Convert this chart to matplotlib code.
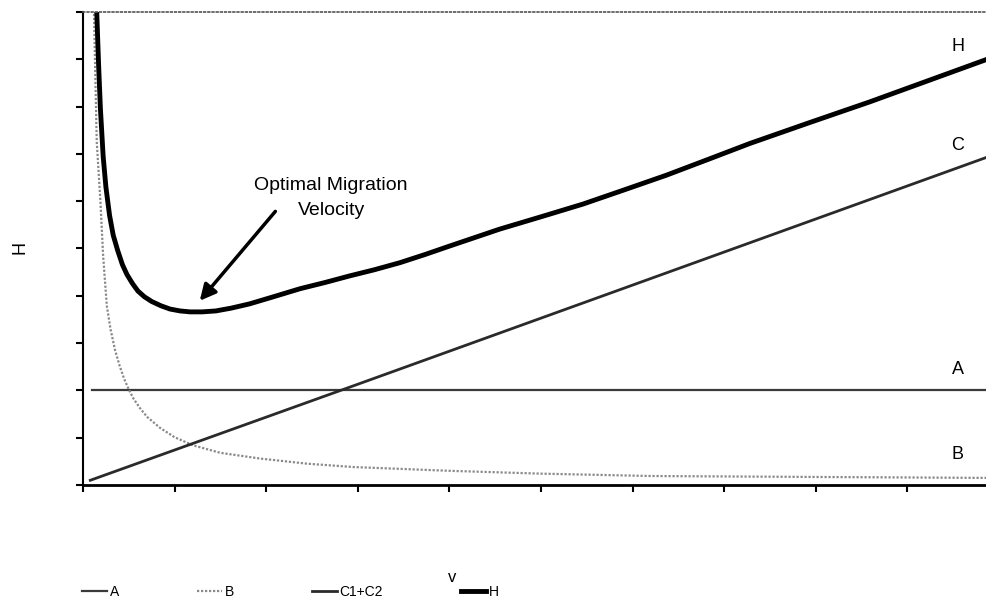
import matplotlib.pyplot as plt

plt.rcParams['font.family'] = ['Liberation Sans', 'DejaVu Sans']

# plate height terms read against migration velocity v
v_a = [0.10, 9.87]
h_a = [2.0, 2.0]

v_b = [0.12, 0.15, 0.19, 0.22, 0.26, 0.30, 0.35, 0.40, 0.45, 0.50, 0.55,
       0.62, 0.70, 0.84, 1.00, 1.20, 1.50, 1.93, 2.45, 2.95, 4.0, 5.0,
       6.2, 8.0, 9.87]
h_b = [9.96, 7.26, 6.0, 4.84, 3.79, 3.30, 2.85, 2.52, 2.24, 2.02, 1.83,
       1.63, 1.44, 1.21, 1.01, 0.84, 0.68, 0.56, 0.45, 0.38, 0.30, 0.24,
       0.19, 0.17, 0.15]

v_c = [0.08, 3.0, 9.87]
h_c = [0.10, 2.13, 6.93]

v_h = [0.15, 0.17, 0.19, 0.22, 0.25, 0.29, 0.33, 0.38, 0.43, 0.48, 0.54,
       0.60, 0.67, 0.75, 0.85, 0.95, 1.06, 1.17, 1.30, 1.45, 1.62, 1.82,
       2.08, 2.37, 2.64, 2.91, 3.18, 3.46, 3.73, 4.00, 4.55, 5.00, 5.46,
       5.91, 6.37, 6.82, 7.28, 7.93, 8.59, 9.23, 9.87]
h_h = [10.0, 8.90, 7.96, 6.95, 6.30, 5.70, 5.28, 4.95, 4.66, 4.45, 4.26,
       4.10, 3.98, 3.88, 3.79, 3.72, 3.68, 3.66, 3.66, 3.68, 3.74, 3.83,
       3.98, 4.15, 4.28, 4.42, 4.55, 4.70, 4.87, 5.05, 5.41, 5.67, 5.94,
       6.24, 6.55, 6.88, 7.22, 7.66, 8.10, 8.55, 9.00]

fig = plt.figure(figsize=(9.87, 6.1), dpi=100)
ax = fig.add_axes([83 / 987, 125 / 610, 1 - 83 / 987, 473 / 610])

ax.plot(v_a, h_a, color='#3a3a3a', lw=1.6, label='A')
ax.plot(v_b, h_b, color='#8a8a8a', lw=1.6, ls=(0, (1, 0.8)), label='B')
ax.plot(v_c, h_c, color='#2a2a2a', lw=2.0, label='C1+C2')
ax.plot(v_h, h_h, color='black', lw=3.5, label='H', solid_joinstyle='round')

ax.set_xlim(0, 9.87)
ax.set_ylim(0, 10)
ax.set_xticks(range(0, 10))
ax.set_yticks(range(0, 11))
ax.tick_params(direction='out', length=5, width=1.5, labelbottom=False, labelleft=False)

ax.spines['right'].set_visible(False)
ax.spines['left'].set_linewidth(1.5)
ax.spines['bottom'].set_linewidth(2)
ax.spines['top'].set_color('#555555')
ax.spines['top'].set_linestyle((0, (1, 1.5)))
ax.spines['top'].set_linewidth(1.2)

# curve names at the right end
for name, yv in [('H', 9.28), ('C', 7.17), ('A', 2.45), ('B', 0.65)]:
    ax.text(9.55, yv, name, fontsize=13, ha='center', va='center')

ax.annotate('', xy=(1.255, 3.85), xytext=(2.12, 5.83),
            arrowprops=dict(arrowstyle='-|>', lw=2.5, color='black', mutation_scale=24))
ax.text(2.71, 6.34, 'Optimal Migration', fontsize=14, ha='center', va='center')
ax.text(2.71, 5.81, 'Velocity', fontsize=14, ha='center', va='center')

fig.text(452 / 987, 1 - 578 / 610, 'v', fontsize=12, ha='center', va='center')
fig.text(20 / 987, 1 - 247 / 610, 'H', fontsize=13, ha='center', va='center', rotation=90)

fig.legend(loc='center left', bbox_to_anchor=(82 / 987, 1 - 592 / 610), ncol=4,
           frameon=False, fontsize=10, handlelength=1.8, handletextpad=0.2,
           columnspacing=5.6, borderpad=0, borderaxespad=0)

fig.savefig('out.png', dpi=100)
